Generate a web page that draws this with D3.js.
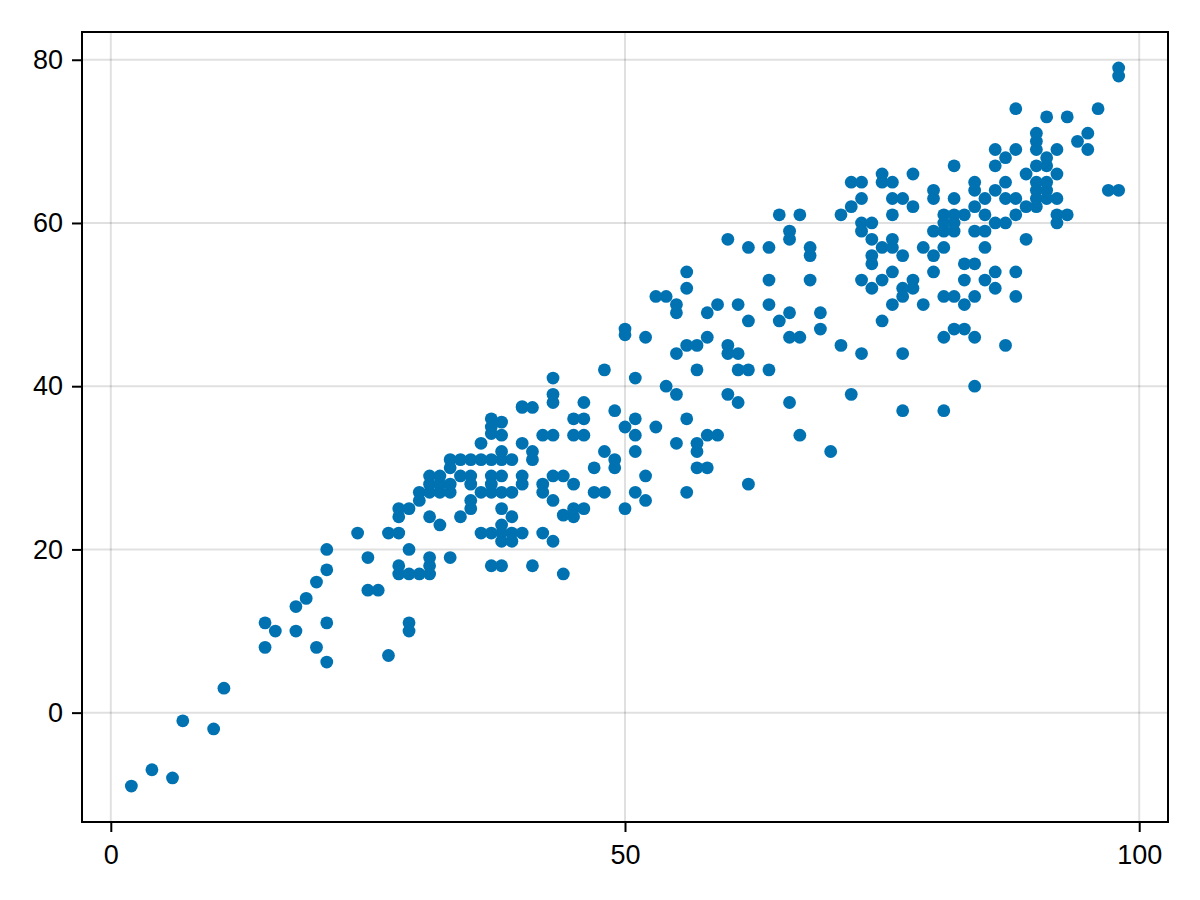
<!DOCTYPE html>
<html>
<head>
<meta charset="utf-8">
<script src="https://cdn.jsdelivr.net/npm/d3@7"></script>
<style>
  html, body { margin: 0; padding: 0; background: #fff; }
  svg { display: block; }
</style>
</head>
<body>
<svg id="chart" width="1200" height="900"></svg>
<script>
// ---- data ----
const xs = [
  2,4,6,7,10,11,15,15,16,18,18,19,20,21,21,
  20,21,21,24,25,25,26,27,28,27,29,29,29,28,28,29,30,31,31,31,33,28,28,29,30,31,32,
  30,31,31,31,32,32,32,33,33,33,33,34,35,36,37,38,39,34,35,35,37,38,37,36,37,38,39,35,35,34,38,39,36,37,38,39,40,38,38,39,36,37,38,37,37,38,38,40,40,37,38,
  48,43,51,43,43,46,40,41,49,45,46,51,50,53,42,43,45,46,51,41,41,48,51,49,49,47,52,40,40,43,44,42,42,45,47,48,51,52,50,43,45,46,44,45,42,43,41,44,
  60,62,64,66,66,68,68,65,67,56,56,53,54,55,55,59,58,61,62,64,64,68,66,65,69,69,66,67,50,50,52,56,57,55,58,60,60,61,57,61,62,64,54,55,60,61,66,67,56,55,57,57,58,59,57,58,56,62,
  71,72,70,73,77,77,81,84,81,82,83,84,75,71,72,72,73,73,73,74,73,74,75,75,76,76,77,78,78,76,76,75,76,74,74,77,76,73,75,74,78,77,77,78,76,79,79,80,81,80,80,80,82,82,80,81,81,81,82,82,82,83,84,85,84,84,84,85,85,86,86,86,85,83,84,83,81,82,83,84,85,86,86,87,
  98,98,88,96,91,93,95,94,95,90,90,90,92,86,88,87,91,90,91,89,92,87,90,91,90,91,90,91,87,88,92,89,90,88,92,93,92,87,89,97,98,88,88
];
const ys = [
  -9,-7,-8,-1,-2,3,8,11,10,10,13,14,8,11,6.2,
  16,17.5,20,22,19,15,15,22,22,7,11,10,20,18,17,17,17,17,18,19,19,25,24,25,26,24,23,
  27,27,28,29,27,28,29,27,28,30,31,31,31,31,31,31,31,29,29,28,29,29,28,27,27,27,27,26,25,24,25,24,22,22,22,22,22,23,21,21,33,34.2,34,35,36,35.6,32,37.5,33,18,18,
  42,41,41,39,38,38,37.4,37.4,37,36,36,36,35,35,34,34,34,34,34,32,31,32,32,31,30,30,29,29,28,29,29,28,27,28,27,27,27,26,25,26,25,25,24.2,24,22,21,18,17,
  58,57,57,59,58,57,56,61,61,54,52,51,51,50,49,50,49,50,48,53,50,53,49,48,49,47,46,46,47,46.3,46,45,45,44,46,45,44,44,42,42,42,42,40,39,39,38,38,34,36,33,33,32,34,34,30,30,27,28,
  45,39,32,44,44,37,37,40,46,47,47,46,48,61,62,65,65,63,60,60,59,58,66,65,65,63,63,66,62,61,58,57,57,56,55,56,54,53,53,52,53,52,51,52,50,50,57,56,57,54,64,63,63,67,59,61,60,59,61,60,59,61,59,59,65,64,62,63,61,67,64,60,57,55,55,53,51,51,50,51,53,54,52,45,
  79,78,74,74,73,73,71,70,69,71,70,69,69,69,69,68,68,67,67,66,66,65,65,65,64,64,63,63,63,63,63,62,62,61,61,61,60,60,58,64,64,54,51
];
const xTicks = [0, 50, 100];
const yTicks = [0, 20, 40, 60, 80];
const pointColor = "#0072B2";

// ---- layout ----
const svg = d3.select("#chart");
const plot = { left: 82, top: 32, right: 1168, bottom: 822 };

function padded(ext) {
  const span = ext[1] - ext[0];
  return [ext[0] - 0.05 * span, ext[1] + 0.05 * span];
}
const x = d3.scaleLinear().domain(padded(d3.extent(xs))).range([plot.left, plot.right]);
const y = d3.scaleLinear().domain(padded(d3.extent(ys))).range([plot.bottom, plot.top]);

const font = "'Liberation Sans', Arial, sans-serif";

// grid
const grid = svg.append("g");
grid.selectAll(".gx").data(xTicks).enter().append("line")
  .attr("x1", d => x(d)).attr("x2", d => x(d))
  .attr("y1", plot.top).attr("y2", plot.bottom)
  .attr("stroke", "rgba(0,0,0,0.12)").attr("stroke-width", 2);
grid.selectAll(".gy").data(yTicks).enter().append("line")
  .attr("y1", d => y(d)).attr("y2", d => y(d))
  .attr("x1", plot.left).attr("x2", plot.right)
  .attr("stroke", "rgba(0,0,0,0.12)").attr("stroke-width", 2);

// points
svg.append("g").selectAll("circle").data(xs.map((v, i) => [v, ys[i]])).enter()
  .append("circle")
  .attr("cx", d => x(d[0])).attr("cy", d => y(d[1]))
  .attr("r", 6.4).attr("fill", pointColor);

// axes
const xAxis = d3.axisBottom(x).tickValues(xTicks).tickSize(10).tickPadding(13).tickFormat(d3.format("d"));
const yAxis = d3.axisLeft(y).tickValues(yTicks).tickSize(10).tickPadding(9).tickFormat(d3.format("d"));

const gx = svg.append("g").attr("transform", `translate(0,${plot.bottom})`).call(xAxis);
const gy = svg.append("g").attr("transform", `translate(${plot.left},0)`).call(yAxis);
[gx, gy].forEach(g => {
  g.select(".domain").remove();
  g.selectAll(".tick line").attr("stroke", "#000").attr("stroke-width", 2);
  g.selectAll(".tick text").attr("fill", "#000").style("font-family", font).style("font-size", "27px");
});

// frame
svg.append("rect")
  .attr("x", plot.left).attr("y", plot.top)
  .attr("width", plot.right - plot.left).attr("height", plot.bottom - plot.top)
  .attr("fill", "none").attr("stroke", "#000").attr("stroke-width", 2);
</script>
</body>
</html>
